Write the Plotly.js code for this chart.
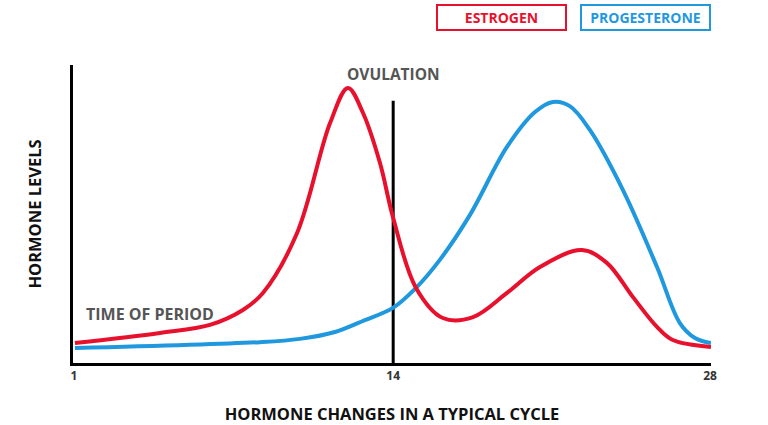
<!DOCTYPE html>
<html>
<head>
<meta charset="utf-8">
<script src="https://cdn.plot.ly/plotly-3.0.1.min.js"></script>
<style>html,body{margin:0;padding:0;background:#fff;}#chart{width:768px;height:425px;}</style>
</head>
<body>
<div id="chart"></div>
<script>
// Cycle day positions and hormone levels (relative units, 0-100)
const estrogenDays = [1.04, 4.65, 6.77, 8.17, 9.02, 10.47, 11.87, 12.63, 13.27, 13.99, 14.54, 15.52, 16.66, 17.94, 19.38, 20.78, 22.56, 23.62, 24.73, 25.75, 26.42, 28.04];
const estrogenLevels = [6.7, 10.1, 12.8, 17.8, 23.5, 43.6, 80.5, 92.3, 83.9, 67.1, 49.0, 25.2, 15.1, 15.4, 23.5, 32.2, 37.9, 33.6, 22.1, 12.1, 7.7, 5.4];

const progesteroneDays = [1.04, 8.89, 10.59, 12.08, 13.35, 14.54, 15.52, 16.53, 17.81, 19.38, 20.57, 21.33, 22.05, 22.90, 24.30, 25.75, 26.72, 27.36, 28.04];
const progesteroneLevels = [5.0, 7.0, 8.1, 10.4, 14.4, 18.5, 25.2, 34.6, 49.7, 72.5, 84.2, 87.6, 86.2, 78.2, 58.1, 32.2, 13.4, 8.4, 6.7];

const ovulationDay = [14.55, 14.55];
const ovulationLevels = [0, 88];

const tickDays = [1, 14.55, 28];
const tickLabels = ["1", "14", "28"];

const seriesNames = ["ESTROGEN", "PROGESTERONE"];
const seriesColors = ["#e8112d", "#1f98de"];

const FONT = "'Open Sans', 'DejaVu Sans', sans-serif";

const traces = [
  {x: ovulationDay, y: ovulationLevels, mode: "lines", line: {color: "#000", width: 3}, hoverinfo: "skip", showlegend: false},
  {x: progesteroneDays, y: progesteroneLevels, name: seriesNames[1], mode: "lines", line: {color: seriesColors[1], width: 4, shape: "spline", smoothing: 1}, showlegend: false},
  {x: estrogenDays, y: estrogenLevels, name: seriesNames[0], mode: "lines", line: {color: seriesColors[0], width: 4, shape: "spline", smoothing: 1}, showlegend: false}
];

const layout = {
  width: 768, height: 425,
  margin: {l: 73, r: 57, t: 65, b: 62},
  paper_bgcolor: "#fff", plot_bgcolor: "#fff",
  font: {family: FONT},
  xaxis: {
    range: [0.958, 28.042], showgrid: false, zeroline: false,
    showline: true, linecolor: "#000", linewidth: 3,
    tickmode: "array", tickvals: tickDays, ticktext: tickLabels,
    ticks: "", tickfont: {family: FONT, size: 12, color: "#333", weight: 700},
    title: {text: "HORMONE CHANGES IN A TYPICAL CYCLE", standoff: 30, font: {family: FONT, size: 16.5, color: "#111", weight: 700}}
  },
  yaxis: {
    range: [0, 100], showgrid: false, zeroline: false,
    showline: true, linecolor: "#000", linewidth: 3,
    showticklabels: false, ticks: "",
    title: {text: "HORMONE LEVELS", standoff: 25, font: {family: FONT, size: 16.5, color: "#111", weight: 700}}
  },
  annotations: [
    {xref: "paper", yref: "paper", x: 0.671, y: 1.161, xanchor: "center", yanchor: "middle", showarrow: false,
     text: "<b>" + seriesNames[0] + "</b>", font: {family: FONT, size: 14, color: seriesColors[0]},
     bordercolor: seriesColors[0], borderwidth: 2, width: 125, height: 21, borderpad: 1},
    {xref: "paper", yref: "paper", x: 0.898, y: 1.161, xanchor: "center", yanchor: "middle", showarrow: false,
     text: "<b>" + seriesNames[1] + "</b>", font: {family: FONT, size: 14, color: seriesColors[1]},
     bordercolor: seriesColors[1], borderwidth: 2, width: 125, height: 21, borderpad: 1},
    {xref: "x", yref: "paper", x: ovulationDay[0], y: 0.97, xanchor: "center", yanchor: "middle", showarrow: false,
     text: "<b>OVULATION</b>", font: {family: FONT, size: 15.5, color: "#555"}},
    {xref: "paper", yref: "y", x: 0.018, y: 16.5, xanchor: "left", yanchor: "middle", showarrow: false,
     text: "<b>TIME OF PERIOD</b>", font: {family: FONT, size: 16, color: "#555"}}
  ]
};

Plotly.newPlot("chart", traces, layout, {displayModeBar: false, staticPlot: true});
</script>
</body>
</html>
